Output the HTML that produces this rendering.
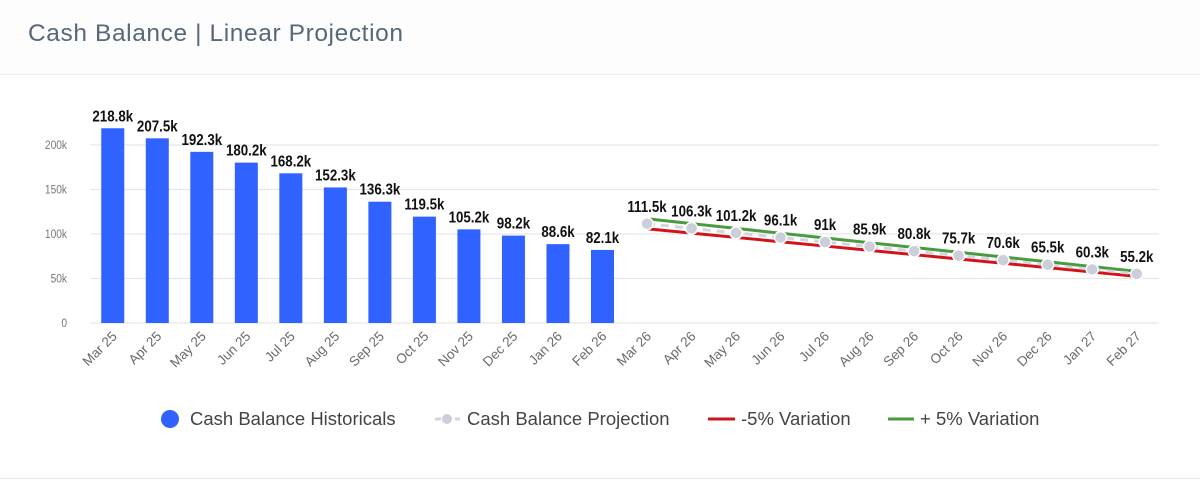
<!DOCTYPE html>
<html><head><meta charset="utf-8"><style>
body{margin:0;width:1200px;height:480px;background:#fff;font-family:"Liberation Sans",sans-serif;overflow:hidden;position:relative}
#hdr{position:absolute;left:0;top:0;width:1200px;height:74px;border-bottom:1px solid #eceef2;background:#fdfdfe}
#title{position:absolute;left:28px;top:20px;font-size:24.5px;letter-spacing:0.6px;color:#56687a}
#foot{position:absolute;left:0;top:478px;width:1200px;height:1px;background:#e6e8ec}
</style></head><body>
<div id="hdr"><div id="title">Cash Balance | Linear Projection</div></div>
<svg id="c" width="1200" height="480" style="position:absolute;left:0;top:0"></svg>
<div id="foot"></div>
<script>
const categories=["Mar 25","Apr 25","May 25","Jun 25","Jul 25","Aug 25","Sep 25","Oct 25","Nov 25","Dec 25","Jan 26","Feb 26","Mar 26","Apr 26","May 26","Jun 26","Jul 26","Aug 26","Sep 26","Oct 26","Nov 26","Dec 26","Jan 27","Feb 27"];
const historicals=[218.8,207.5,192.3,180.2,168.2,152.3,136.3,119.5,105.2,98.2,88.6,82.1];
const projection=[111.5,106.3,101.2,96.1,91,85.9,80.8,75.7,70.6,65.5,60.3,55.2];
const yTicks=[0,50,100,150,200];
const yTickLabels=["0","50k","100k","150k","200k"];
const NS="http://www.w3.org/2000/svg";
const svg=document.getElementById('c');
const L=90.5,R=1159,Y0=323,K=178/200,bw=(R-L)/categories.length;
const x=i=>L+bw*(i+0.5), y=v=>Y0-v*K;
function el(t,a,p){const e=document.createElementNS(NS,t);for(const k in a)e.setAttribute(k,a[k]);(p||svg).appendChild(e);return e;}
function vlabel(xp,yp,s){const t=el('text',{transform:`translate(${xp},${yp}) scale(0.86,1)`,'text-anchor':'middle','font-size':15.5,'font-weight':'bold',fill:'#111'});t.textContent=s;return t;}
yTicks.forEach((t,i)=>{
 const g=el('line',{x1:L,x2:R,y1:y(t),y2:y(t),stroke:'#e6e6e6','stroke-width':1.3});
 
 
 const tx=el('text',{transform:`translate(67,${y(t)+4}) scale(0.85,1)`,'text-anchor':'end','font-size':12,fill:'#777'});tx.textContent=yTickLabels[i];
 
 
});
categories.forEach((c,i)=>{
 const t=el('text',{transform:`translate(${x(i)+5},${Y0+14}) rotate(-45)`,'text-anchor':'end','font-size':13.5,fill:'#6a6a6a'});t.textContent=c;
 
 
});
historicals.forEach((v,i)=>{
 const b=el('rect',{x:x(i)-11.5,y:y(v),width:23,height:Y0-y(v),fill:'#2f62ff'});
 
 
 const t=vlabel(x(i),y(v)-7,v+'k');
 
 
});
const off=historicals.length;
const pts=f=>projection.map((v,i)=>x(i+off)+','+y(v*f)).join(' ');
const g1=el('polyline',{points:pts(1.05),fill:'none',stroke:'#4a9a3f','stroke-width':3});


const r1=el('polyline',{points:pts(0.95),fill:'none',stroke:'#d0141a','stroke-width':3});


const p1=el('polyline',{points:pts(1),fill:'none',stroke:'#d3d4e0','stroke-width':3,'stroke-dasharray':'8,6'});


projection.forEach((v,i)=>{
 const c=el('circle',{cx:x(i+off),cy:y(v),r:6,fill:'#ccceda',stroke:'#fff','stroke-width':1.5});
 
 
 const t=vlabel(x(i+off),y(v)-12,v+'k');
 
 
});
const lg=el('g',{});


function ltext(xp,s){const t=el('text',{x:xp,y:425,'font-size':18.5,fill:'#444'},lg);t.textContent=s;}
el('circle',{cx:170,cy:419,r:9,fill:'#2f62ff'},lg);ltext(190,'Cash Balance Historicals');
el('line',{x1:435,x2:460,y1:419,y2:419,stroke:'#d3d4e0','stroke-width':3,'stroke-dasharray':'6,4'},lg);
el('circle',{cx:447,cy:419,r:5,fill:'#ccceda'},lg);ltext(467,'Cash Balance Projection');
el('line',{x1:708,x2:735,y1:419,y2:419,stroke:'#d0141a','stroke-width':3},lg);ltext(741,'-5% Variation');
el('line',{x1:888,x2:914,y1:419,y2:419,stroke:'#4a9a3f','stroke-width':3},lg);ltext(920,'+ 5% Variation');
</script>
</body></html>
